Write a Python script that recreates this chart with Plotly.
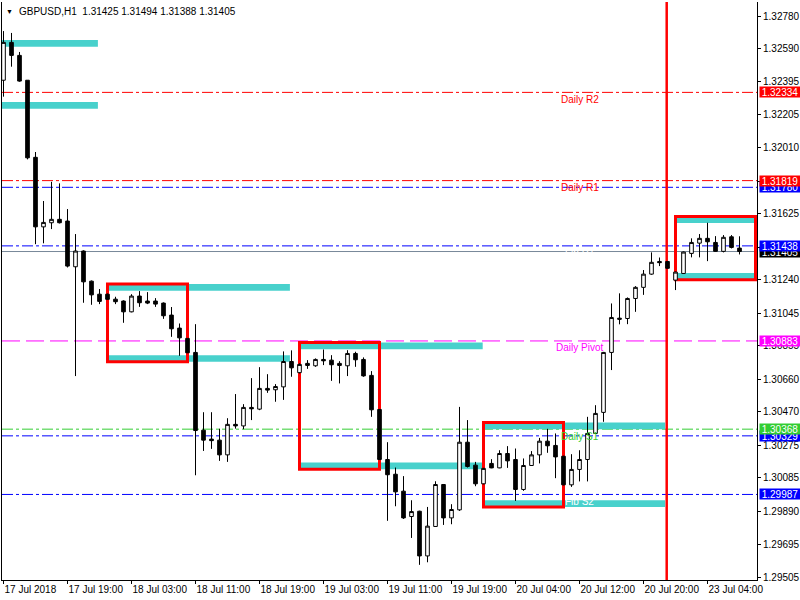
import plotly.graph_objects as go

# ---------------- data ----------------
bar_index = list(range(93))
open_prices = [1.32405, 1.32626, 1.32550, 1.32405, 1.31955, 1.31549, 1.31573, 1.31593, 1.31583, 1.31316,
               1.31408, 1.31232, 1.31156, 1.31156, 1.31127, 1.31116, 1.31053, 1.31145, 1.31116, 1.31116,
               1.31104, 1.31034, 1.30958, 1.30898, 1.30816, 1.30362, 1.30310, 1.30304, 1.30218, 1.30396,
               1.30387, 1.30495, 1.30485, 1.30606, 1.30598, 1.30615, 1.30763, 1.30698, 1.30752, 1.30738,
               1.30775, 1.30771, 1.30752, 1.30738, 1.30810, 1.30775, 1.30682, 1.30483, 1.30191, 1.30105,
               1.30006, 1.29858, 1.29889, 1.29628, 1.29800, 1.30045, 1.29850, 1.29897, 1.30292, 1.30158,
               1.30049, 1.30168, 1.30142, 1.30226, 1.30191, 1.30016, 1.30156, 1.30218, 1.30298, 1.30273,
               1.30210, 1.30043, 1.30133, 1.30191, 1.30343, 1.30466, 1.30816, 1.31016, 1.31014, 1.31131,
               1.31196, 1.31273, 1.31347, 1.31347, 1.31238, 1.31277, 1.31394, 1.31454, 1.31482, 1.31458,
               1.31406, 1.31491, 1.31425]
high_prices = [1.32692, 1.32681, 1.32570, 1.32405, 1.31986, 1.31700, 1.31812, 1.31803, 1.31653, 1.31507,
               1.31412, 1.31236, 1.31186, 1.31160, 1.31141, 1.31120, 1.31156, 1.31174, 1.31168, 1.31133,
               1.31108, 1.31081, 1.30985, 1.30900, 1.30981, 1.30467, 1.30467, 1.30371, 1.30432, 1.30573,
               1.30514, 1.30666, 1.30730, 1.30689, 1.30631, 1.30822, 1.30828, 1.30752, 1.30771, 1.30781,
               1.30833, 1.30800, 1.30765, 1.30829, 1.30820, 1.30787, 1.30707, 1.30486, 1.30292, 1.30144,
               1.30094, 1.29953, 1.29892, 1.29914, 1.30064, 1.30048, 1.29930, 1.30498, 1.30421, 1.30177,
               1.30142, 1.30193, 1.30245, 1.30269, 1.30255, 1.30197, 1.30240, 1.30317, 1.30370, 1.30343,
               1.30213, 1.30222, 1.30245, 1.30440, 1.30508, 1.30819, 1.31102, 1.31161, 1.31137, 1.31203,
               1.31297, 1.31400, 1.31370, 1.31350, 1.31288, 1.31405, 1.31482, 1.31507, 1.31573, 1.31495,
               1.31501, 1.31501, 1.31494]
low_prices = [1.32309, 1.32484, 1.32396, 1.31943, 1.31448, 1.31453, 1.31536, 1.31569, 1.31312, 1.30678,
              1.31106, 1.31094, 1.31098, 1.31122, 1.31098, 1.30989, 1.31050, 1.31082, 1.31098, 1.31082,
              1.31012, 1.30907, 1.30796, 1.30812, 1.30099, 1.30241, 1.30253, 1.30183, 1.30177, 1.30371,
              1.30368, 1.30421, 1.30479, 1.30580, 1.30528, 1.30539, 1.30674, 1.30693, 1.30720, 1.30732,
              1.30742, 1.30650, 1.30635, 1.30678, 1.30732, 1.30674, 1.30440, 1.30188, 1.29833, 1.29918,
              1.29844, 1.29733, 1.29576, 1.29591, 1.29797, 1.29809, 1.29813, 1.29891, 1.30144, 1.30035,
              1.30046, 1.30140, 1.30140, 1.30142, 1.29949, 1.30008, 1.30153, 1.30168, 1.30230, 1.30082,
              1.30040, 1.30031, 1.30063, 1.30063, 1.30340, 1.30411, 1.30713, 1.30980, 1.30981, 1.31053,
              1.31152, 1.31269, 1.31320, 1.31305, 1.31180, 1.31274, 1.31371, 1.31371, 1.31349, 1.31404,
              1.31400, 1.31423, 1.31388]
close_prices = [1.32626, 1.32550, 1.32400, 1.31952, 1.31549, 1.31575, 1.31593, 1.31573, 1.31320, 1.31408,
                1.31228, 1.31152, 1.31114, 1.31126, 1.31112, 1.31053, 1.31145, 1.31106, 1.31104, 1.31098,
                1.31030, 1.30954, 1.30901, 1.30814, 1.30360, 1.30304, 1.30301, 1.30218, 1.30396, 1.30387,
                1.30495, 1.30487, 1.30606, 1.30596, 1.30617, 1.30763, 1.30726, 1.30746, 1.30740, 1.30775,
                1.30767, 1.30744, 1.30740, 1.30810, 1.30773, 1.30679, 1.30481, 1.30191, 1.30102, 1.30002,
                1.29850, 1.29887, 1.29628, 1.29802, 1.30045, 1.29850, 1.29899, 1.30292, 1.30150, 1.30049,
                1.30139, 1.30142, 1.30226, 1.30183, 1.30016, 1.30156, 1.30218, 1.30298, 1.30271, 1.30206,
                1.30043, 1.30133, 1.30191, 1.30343, 1.30460, 1.30816, 1.31020, 1.31010, 1.31131, 1.31196,
                1.31273, 1.31342, 1.31340, 1.31307, 1.31285, 1.31402, 1.31458, 1.31482, 1.31462, 1.31406,
                1.31488, 1.31429, 1.31405]

time_tick_bars = [0, 8, 16, 24, 32, 40, 48, 56, 64, 72, 80, 88]
time_tick_labels = ["17 Jul 2018", "17 Jul 19:00", "18 Jul 03:00", "18 Jul 11:00", "18 Jul 19:00",
                    "19 Jul 03:00", "19 Jul 11:00", "19 Jul 19:00", "20 Jul 04:00", "20 Jul 12:00",
                    "20 Jul 20:00", "23 Jul 04:00"]
price_ticks = [1.32780, 1.32590, 1.32395, 1.32205, 1.32010, 1.31815, 1.31625, 1.31430, 1.31240,
               1.31045, 1.30855, 1.30660, 1.30470, 1.30275, 1.30085, 1.29890, 1.29695, 1.29505]

# horizontal levels (draw order)
level_prices = [1.32334, 1.31780, 1.31819, 1.31405, 1.31438, 1.30883, 1.30329, 1.30368, 1.29987]
level_kinds = ["dailyR", "fib", "dailyR", "bid", "fib", "pivot", "fib", "dailyS", "fib"]

# level texts
label_prices = [1.32334, 1.31819, 1.30883, 1.30368, 1.29987, 1.31438]
label_texts = ["Daily R2", "Daily R1", "Daily Pivot", "Daily S1", "Fib S2", "Fib R1"]
label_kinds = ["dailyR", "dailyR", "pivot", "dailyS", "fib", "fib"]
label_bar = 72

# supply / demand zones (bar start, bar end, low, high)
zone_x0 = [-1, -1, 13, 13, 37, 37, 60, 60, 84, 84]
zone_x1 = [11.8, 11.8, 35.8, 35.8, 59.9, 59.9, 82.7, 82.7, 93.9, 93.9]
zone_lo = [1.32601, 1.32239, 1.31176, 1.30761, 1.30835, 1.30134, 1.30368, 1.29914, 1.31571, 1.31241]
zone_hi = [1.32640, 1.32278, 1.31215, 1.30800, 1.30874, 1.30174, 1.30407, 1.29953, 1.31609, 1.31279]

# red boxes (bar start, bar end, low, high)
box_x0 = [13, 37, 60, 84]
box_x1 = [23, 47, 70, 94]
box_lo = [1.30761, 1.30134, 1.29914, 1.31241]
box_hi = [1.31215, 1.30874, 1.30407, 1.31609]

separator_bar = 82.9

title_text = "GBPUSD,H1  1.31425 1.31494 1.31388 1.31405"

# ---------------- styles ----------------
FONT = "Tahoma, Liberation Sans, Arial, sans-serif"
kind_color = {"dailyR": "#FF0000", "fib": "#0000FF", "bid": "#778899",
              "pivot": "#FF00FF", "dailyS": "#32CD32"}
kind_dash = {"dailyR": "11px,3px,3px,3px", "fib": "11px,3px,3px,3px", "bid": "solid",
             "pivot": "18px,6px", "dailyS": "11px,3px,3px,3px"}
label_color = {"dailyR": "#FF0000", "pivot": "#FF00FF", "dailyS": "#32CD32", "fib": "#FFFFFF"}
box_bg = {"dailyR": "#FF0000", "fib": "#0000FF", "bid": "#000000", "pivot": "#FF00FF", "dailyS": "#32CD32"}

fig = go.Figure()

fig.add_trace(go.Candlestick(
    x=bar_index, open=open_prices, high=high_prices, low=low_prices, close=close_prices,
    increasing=dict(fillcolor="#FFFFFF", line=dict(color="#000000", width=1)),
    decreasing=dict(fillcolor="#000000", line=dict(color="#000000", width=1)),
    whiskerwidth=0, hoverinfo="skip", showlegend=False,
))

shapes = []
for x0, x1, lo, hi in zip(zone_x0, zone_x1, zone_lo, zone_hi):
    shapes.append(dict(type="rect", xref="x", yref="y", x0=x0, x1=x1, y0=lo, y1=hi,
                       fillcolor="#48D1CC", line=dict(width=0), layer="below"))
for p, k in zip(level_prices, level_kinds):
    shapes.append(dict(type="line", xref="paper", yref="y", x0=0, x1=1, y0=p, y1=p,
                       line=dict(color=kind_color[k], width=1, dash=kind_dash[k]), layer="below"))
for x0, x1, lo, hi in zip(box_x0, box_x1, box_lo, box_hi):
    shapes.append(dict(type="rect", xref="x", yref="y", x0=x0, x1=x1, y0=lo, y1=hi,
                       line=dict(color="#FF0000", width=3), fillcolor="rgba(0,0,0,0)", layer="below"))
shapes.append(dict(type="line", xref="x", yref="paper", x0=separator_bar, x1=separator_bar, y0=0, y1=1,
                   line=dict(color="#FF0000", width=2.5), layer="below"))

annotations = []
for p, t, k in zip(label_prices, label_texts, label_kinds):
    annotations.append(dict(x=label_bar, y=p, xref="x", yref="y", text=t, showarrow=False,
                            xanchor="center", yanchor="middle", yshift=-7,
                            font=dict(family=FONT, size=10, color=label_color[k])))
for p, k in zip(level_prices, level_kinds):
    annotations.append(dict(x=1, y=p, xref="paper", yref="y", text=f"{p:.5f}", showarrow=False,
                            xanchor="left", yanchor="middle", xshift=2, width=40, height=10,
                            bgcolor=box_bg[k], borderpad=0, align="center",
                            font=dict(family=FONT, size=10, color="#FFFFFF")))
annotations.append(dict(x=0, y=1, xref="paper", yref="paper", text="▼", showarrow=False,
                        xanchor="left", yanchor="top", xshift=2, yshift=-4,
                        font=dict(family=FONT, size=7, color="#000000")))
annotations.append(dict(x=0, y=1, xref="paper", yref="paper", text=title_text, showarrow=False,
                        xanchor="left", yanchor="top", xshift=15, yshift=-2,
                        font=dict(family=FONT, size=10, color="#000000")))

fig.update_layout(
    width=800, height=600,
    margin=dict(l=2, r=43, t=2, b=20, autoexpand=False),
    paper_bgcolor="#FFFFFF", plot_bgcolor="#FFFFFF",
    showlegend=False, boxgap=0.35,
    shapes=shapes, annotations=annotations,
    font=dict(family=FONT, size=10, color="#000000"),
    xaxis=dict(range=[-0.1875, 94.1875], showgrid=False, zeroline=False, automargin=False,
               showline=True, linecolor="#000000", linewidth=1,
               ticks="outside", ticklen=3, tickcolor="#000000", tickangle=0,
               tickvals=time_tick_bars, ticktext=time_tick_labels,
               ticklabelposition="outside right",
               tickfont=dict(family=FONT, size=10, color="#000000"),
               rangeslider=dict(visible=False), fixedrange=True),
    yaxis=dict(side="right", range=[1.294875, 1.328617], showgrid=False, zeroline=False,
               automargin=False,
               showline=True, mirror=True, linecolor="#000000", linewidth=1,
               ticks="outside", ticklen=3, tickcolor="#000000",
               tickvals=price_ticks, ticktext=[f"{v:.5f}" for v in price_ticks],
               tickfont=dict(family=FONT, size=10, color="#000000"), fixedrange=True),
)

fig.write_html("out.html", config={"displayModeBar": False},
               post_script="document.body.style.margin='0';document.body.style.overflow='hidden';")
